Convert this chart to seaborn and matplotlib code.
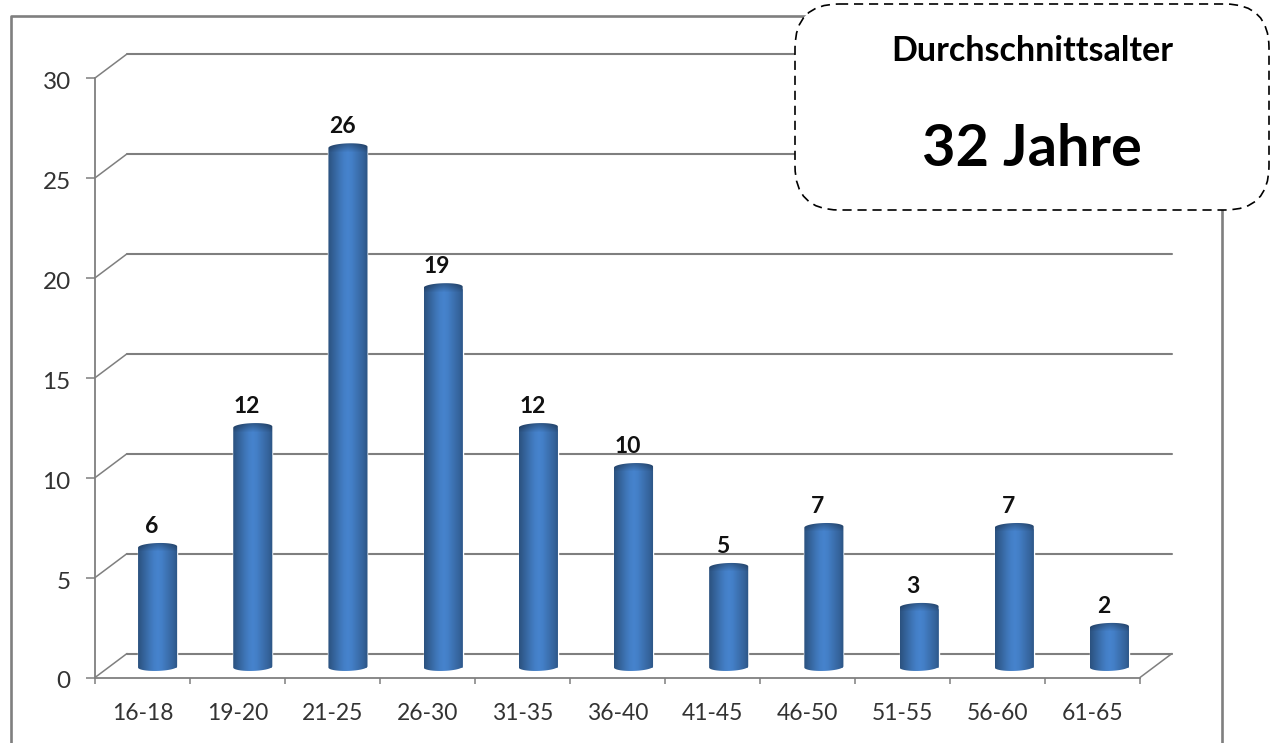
import numpy as np
import pandas as pd
import matplotlib
matplotlib.use("Agg")
import matplotlib.pyplot as plt
from matplotlib.patches import FancyBboxPatch, PathPatch
from matplotlib.path import Path
from matplotlib.transforms import ScaledTranslation
import seaborn as sns

# values
age_groups = ["16-18", "19-20", "21-25", "26-30", "31-35", "36-40",
              "41-45", "46-50", "51-55", "56-60", "61-65"]
counts = [6, 12, 26, 19, 12, 10, 5, 7, 3, 7, 2]
y_ticks = [0, 5, 10, 15, 20, 25, 30]
box_title = "Durchschnittsalter"
box_value = "32 Jahre"

W, H = 1271, 743
GREY = "#7f7f7f"
TEXT = "#333333"

sns.set_theme(style="white")
plt.rcParams["font.family"] = ["Lato", "DejaVu Sans"]

df = pd.DataFrame({"age": age_groups, "count": counts})
fig = plt.figure(figsize=(W / 100, H / 100), dpi=100, facecolor="white")


def pixel_axes(left, top, right, bottom, z):
    a = fig.add_axes([left / W, 1 - bottom / H, (right - left) / W, (bottom - top) / H])
    a.set_zorder(z)
    a.patch.set_alpha(0)
    return a


# outer frame of the chart, open at the bottom of the picture
frame = pixel_axes(0, 0, W, H, 0)
frame.set_xlim(0, W)
frame.set_ylim(H, 0)
frame.axis("off")
frame.plot([10.5, 10.5, 1221.5, 1221.5], [H, 16, 16, H], color=GREY, lw=1.9)

# front plane: axis lines, ticks and labels
ax = pixel_axes(95, 78, 1140, 677.5, 2)
ax.set_xlim(-0.5, len(age_groups) - 0.5)
ax.set_ylim(0, 30)
ax.set_yticks(y_ticks)
ax.set_xticks(np.arange(len(age_groups) + 1) - 0.5)
ax.set_xticklabels([])
ax.set_xticks(np.arange(len(age_groups)), labels=age_groups, minor=True)
ax.tick_params(axis="y", left=True, length=6.5, width=1.1, color=GREY, labelsize=17.5,
               labelcolor=TEXT, pad=11)
ax.tick_params(axis="x", which="major", bottom=True, length=4.5, width=1.1, color=GREY)
ax.tick_params(axis="x", which="minor", bottom=False, labelsize=16.5, labelcolor=TEXT, pad=14)
down = ScaledTranslation(0, -2.5 / 100, fig.dpi_scale_trans)
for lab in ax.get_yticklabels():
    lab.set_transform(lab.get_transform() + down)
for s in ["top", "right"]:
    ax.spines[s].set_visible(False)
for s in ["left", "bottom"]:
    ax.spines[s].set_color(GREY)
    ax.spines[s].set_linewidth(1.3)

# back plane gridlines, shifted up and to the right for the 3D look
dx_px, dy_px = 32, 24
back = pixel_axes(95 + dx_px, 78 - dy_px, 1140 + dx_px, 677.5 - dy_px, 1)
back.set_xlim(ax.get_xlim())
back.set_ylim(ax.get_ylim())
back.set_yticks(y_ticks)
back.set_xticks([])
back.set_yticklabels([])
back.grid(axis="y", color=GREY, lw=1.5)
back.tick_params(left=False, bottom=False)
sns.despine(ax=back, left=True, bottom=True)
for gl in back.get_ygridlines():
    gl.set_clip_on(False)

# diagonals joining front and back
dx = dx_px / 95
dy = dy_px / 20
for v in y_ticks:
    ax.plot([-0.5, -0.5 + dx], [v, v + dy], color=GREY, lw=1.1, clip_on=False)
ax.plot([10.5, 10.5 + dx], [0, dy], color=GREY, lw=1.1, clip_on=False)

# bars sit on the floor, so their axes is shifted against the front plane
# one extra unit below zero leaves room for the round bottom of the cylinders
bars = pixel_axes(95 + 15, 78 - 10, 1142 + 15, 677.5 - 10 + 20, 3)
sns.barplot(data=df, x="age", y="count", color="#3c73b6", width=39 / 95, ax=bars)
bars.axis("off")

# cylinder shading: horizontal gradient clipped to a shape with round caps
shade = np.array([0.70, 0.80, 0.90, 1.0, 1.08, 1.12, 1.08, 1.0, 0.92, 0.84, 0.72])
base_rgb = np.array([0.245, 0.46, 0.72])
sem = 4 / 20
tilt = 0.06
t = np.linspace(0, np.pi, 30)
for patch, v in zip(bars.patches, counts):
    x0, w = patch.get_x(), patch.get_width()
    xc = x0 + w / 2
    n_rows = int(v * 20 + 10)
    xs = np.linspace(0, len(shade) - 1, 40)
    row = np.interp(xs, np.arange(len(shade)), shade)
    img = np.ones((n_rows, 40, 3)) * base_rgb
    img = img * row[None, :, None]
    cap = np.ones(n_rows)
    cap[:10] = np.linspace(0.68, 1.0, 10)
    img = np.clip(img * cap[:, None, None], 0, 1)
    im = bars.imshow(img, extent=(x0, x0 + w, -sem, v + sem + tilt), aspect="auto", zorder=3)
    top = np.column_stack([xc - w / 2 * np.cos(t), v + sem * np.sin(t) + tilt * (1 - np.cos(t)) / 2])
    bot = np.column_stack([xc + w / 2 * np.cos(t), -sem * np.sin(t) + tilt * (1 + np.cos(t)) / 2])
    shape = PathPatch(Path(np.vstack([top, bot, top[:1]]), closed=True), transform=bars.transData,
                      fc="none", ec="none")
    bars.add_patch(shape)
    im.set_clip_path(shape)
    bars.annotate(str(v), (xc, v), xytext=(-6 / 1.389, 15.5), textcoords="offset points",
                  ha="center", va="center", fontsize=16.5, fontweight="bold", color="#111111",
                  annotation_clip=False)
bars.set_xlim(ax.get_xlim())
bars.set_ylim(-1, 30)

# callout box on top of everything
over = pixel_axes(0, 0, W, H, 5)
over.set_xlim(0, W)
over.set_ylim(H, 0)
over.axis("off")
over.add_patch(FancyBboxPatch((795, 4), 474, 206, boxstyle="round,pad=0,rounding_size=44",
                              fc="white", ec="black", lw=1.2, ls=(0, (5.5, 3.5))))
over.text(1032, 51, box_title, ha="center", va="center", fontsize=24.5, fontweight="bold", color="black")
over.text(1032, 149, box_value, ha="center", va="center", fontsize=41.5, fontweight="bold", color="black")

fig.savefig("out.png", dpi=100, facecolor="white")
